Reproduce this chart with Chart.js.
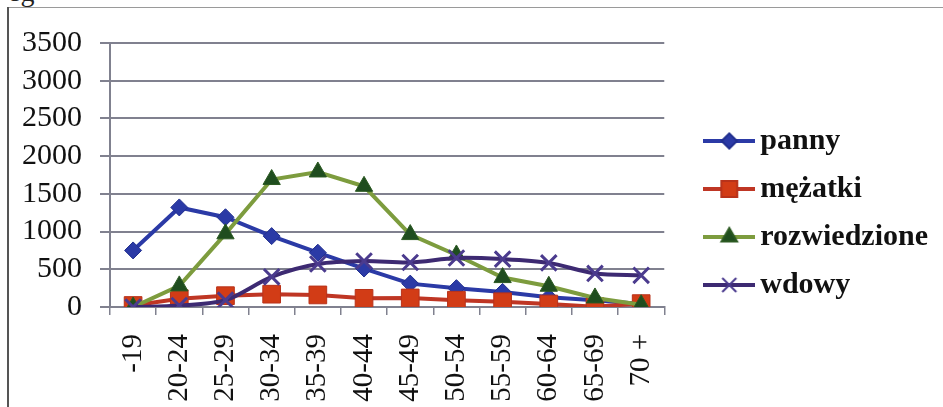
<!DOCTYPE html>
<html><head><meta charset="utf-8">
<script src="https://cdn.jsdelivr.net/npm/chart.js@4.4.1/dist/chart.umd.min.js"></script>
<style>
html,body{margin:0;padding:0;background:#fff;width:943px;height:407px;overflow:hidden;}
#wrap{position:relative;width:943px;height:407px;}
#frameTop{position:absolute;left:7px;top:7px;width:936px;height:0;border-top:1px solid #9a9a9a;}
#frameLeft{position:absolute;left:7px;top:7px;width:0;height:400px;border-left:2px solid #555;}
#cut{position:absolute;left:8px;top:-22px;font:28px "Liberation Serif";line-height:28px;color:#222;}
canvas{position:absolute;left:0;top:0;}
</style></head><body>
<div id="wrap"><div id="cut">eg</div><div id="frameTop"></div><div id="frameLeft"></div><canvas id="c" width="943" height="407"></canvas></div>
<script>
const categories = ['-19','20-24','25-29','30-34','35-39','40-44','45-49','50-54','55-59','60-64','65-69','70 +'];
const panny        = [750, 1320, 1190, 940, 720, 510, 310, 250, 200, 130, 90, 40];
const mezatki      = [20, 110, 150, 170, 160, 115, 120, 90, 70, 40, 5, 45];
const rozwiedzione = [0, 280, 970, 1690, 1790, 1600, 960, 690, 390, 275, 120, 30];
const wdowy        = [0, 20, 90, 400, 570, 610, 590, 650, 635, 585, 445, 420];
const seriesNames  = ['panny', 'mężatki', 'rozwiedzione', 'wdowy'];
const yMin = 0, yMax = 3500, yStep = 500;

const GRID = '#80818f';
const TXT = '#111111';
const SERIF = '"Liberation Serif", "Times New Roman", serif';
const styles = [
  {line:'#2b3aa6', fill:'#2b3aa6', stroke:'#22308f', pointStyle:'rectRot', r:8.5, tension:0},
  {line:'#bf3624', fill:'#d23c16', stroke:'#b8321a', pointStyle:'rect', r:12.5, tension:0},
  {line:'#7d9c3e', fill:'#1f4d1f', stroke:'#2c5a22', pointStyle:'triangle', r:10, tension:0},
  {line:'#3d2a72', fill:'#4b3b8e', stroke:'#4b3b8e', pointStyle:'crossRot', r:11, tension:0.3}
];
const seriesData = [panny, mezatki, rozwiedzione, wdowy];

function legendIcon(s){
  const c = document.createElement('canvas'); c.width = 52; c.height = 26;
  const x = c.getContext('2d');
  x.strokeStyle = s.line; x.lineWidth = 4; x.beginPath(); x.moveTo(0,13); x.lineTo(52,13); x.stroke();
  x.fillStyle = s.fill; x.strokeStyle = s.stroke; x.lineWidth = 2;
  Chart.helpers.drawPoint(x, {pointStyle:s.pointStyle, radius:s.r*0.9, rotation:0, borderWidth:2.5}, 26, 13);
  return c;
}

const datasets = seriesNames.map((name, i) => ({
  label: name,
  data: seriesData[i],
  borderColor: styles[i].line,
  backgroundColor: styles[i].fill,
  borderWidth: 4,
  pointStyle: styles[i].pointStyle,
  pointRadius: styles[i].r,
  pointHoverRadius: styles[i].r,
  pointBackgroundColor: styles[i].fill,
  pointBorderColor: styles[i].stroke,
  pointBorderWidth: styles[i].pointStyle === 'crossRot' ? 3 : 1,
  tension: styles[i].tension,
  order: 4 - i,
  yAxisID: 'y'
}));

new Chart(document.getElementById('c'), {
  type: 'line',
  data: { labels: categories, datasets },
  options: {
    responsive: false,
    animation: false,
    events: [],
    layout: { padding: { top: 43, bottom: 0, left: 0, right: 5 } },
    plugins: {
      tooltip: { enabled: false },
      legend: {
        position: 'right',
        align: 'start',
        maxWidth: 400,
        title: { display: true, text: ' ', font: { size: 10, lineHeight: 1 }, padding: { top: 0, bottom: 55 } },
        labels: {
          usePointStyle: true,
          pointStyleWidth: 32,
          padding: 18,
          color: TXT,
          font: { family: SERIF, size: 30, weight: 'bold' },
          generateLabels: (chart) => chart.data.datasets.map((d, i) => ({
            text: d.label,
            datasetIndex: i,
            pointStyle: legendIcon(styles[i]),
            fillStyle: styles[i].fill,
            strokeStyle: styles[i].line,
            lineWidth: 0,
            fontColor: TXT,
            hidden: false
          }))
        }
      }
    },
    scales: {
      x: {
        offset: true,
        grid: { display: true, drawOnChartArea: false, drawTicks: true, tickLength: 8, color: GRID, lineWidth: 1.5, offset: true },
        border: { display: true, color: GRID, width: 2 },
        ticks: {
          autoSkip: false, minRotation: 90, maxRotation: 90, padding: 19, color: TXT,
          font: { family: SERIF, size: 29 }
        },
        afterFit: (s) => { s.height = 100; }
      },
      y: {
        position: 'left',
        min: yMin, max: yMax,
        grid: { color: GRID, lineWidth: 2, tickLength: 10, drawTicks: true },
        border: { display: true, color: GRID, width: 2 },
        ticks: {
          stepSize: yStep, autoSkip: false, padding: 18, color: TXT,
          font: { family: SERIF, size: 30 },
          callback: (v) => String(v)
        },
        afterFit: (s) => { s.width = 110; }
      },
      y2: {
        position: 'right',
        display: true,
        grid: { display: false },
        border: { display: false },
        ticks: { display: false },
        afterFit: (s) => { s.width = 31; }
      }
    }
  }
});
</script>
</body></html>
